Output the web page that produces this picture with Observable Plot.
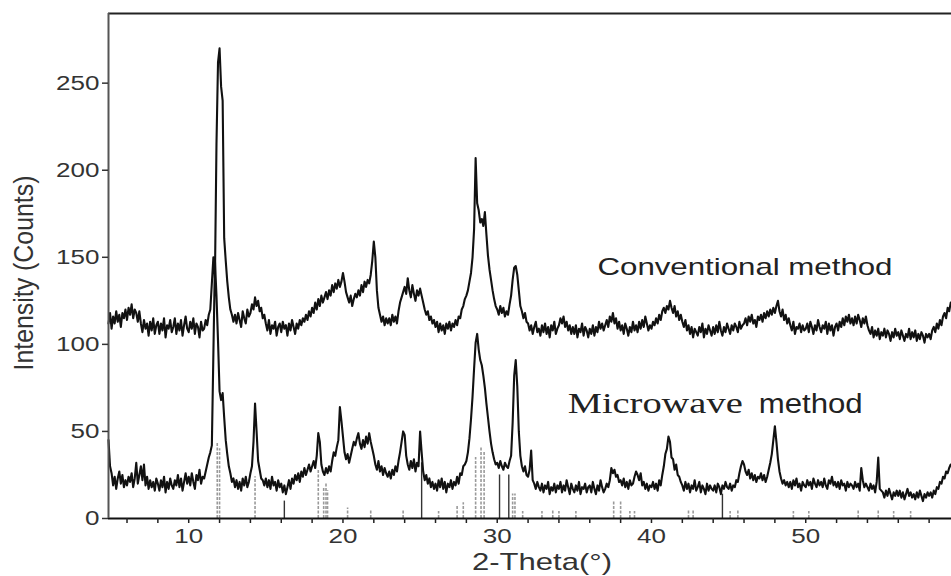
<!DOCTYPE html>
<html>
<head>
<meta charset="utf-8">
<script src="https://cdn.jsdelivr.net/npm/d3@7"></script>
<script src="https://cdn.jsdelivr.net/npm/@observablehq/plot@0.6"></script>
<style>
  html, body { margin: 0; padding: 0; background: #fff; overflow: hidden; }
  #chart svg { display: block; }
</style>
</head>
<body>
<div id="chart"></div>
<script>
// scan grid: 2-theta from 4.8 in steps of 0.1 degree
const thetaStart = 4.8, thetaStep = 0.1;

// Conventional method intensities (counts)
const conventional = [
  112,118,
  109,116,112,119,113,117,110,118,115,120, // 5
  114,121,117,123,115,120,118,113,119,112, // 6
  107,114,109,112,105,113,108,115,106,111, // 7
  113,106,112,108,115,104,111,109,114,107, // 8
  110,115,106,112,108,114,105,111,116,109, // 9
  107,113,109,115,106,112,110,104,113,108, // 10
  109,114,111,117,120,135,150,138,215,262, // 11
  270,248,240,161,148,136,127,120,117,113, // 12
  117,112,118,114,110,119,115,112,120,116, // 13
  118,123,120,127,122,125,119,121,115,117, // 14
  112,108,114,106,111,109,113,105,110,112, // 15
  107,113,109,111,105,112,108,114,110,106, // 16
  112,109,114,111,115,113,117,114,119,116, // 17
  121,118,124,120,126,122,128,124,127,130, // 18
  126,131,128,134,130,135,132,137,133,136, // 19
  141,136,130,127,124,128,122,126,129,127, // 20
  131,128,134,130,136,133,137,135,140,148, // 21
  159,150,131,121,117,113,116,111,115,112, // 22
  115,111,117,113,116,112,119,124,127,130, // 23
  133,129,138,131,127,134,129,125,131,128, // 24
  132,128,124,120,117,119,114,116,112,114, // 25
  110,113,107,112,108,111,106,112,109,113, // 26
  108,112,110,114,111,116,115,120,122,126, // 27
  128,131,136,141,150,166,207,181,177,170, // 28
  172,168,176,163,151,143,137,131,126,122, // 29
  120,117,122,118,121,116,119,117,123,128, // 30
  137,144,145,140,131,122,119,115,118,113, // 31
  112,108,111,106,110,113,107,109,105,111, // 32
  107,112,106,110,104,111,108,113,106,109, // 33
  111,115,112,116,110,113,108,111,106,110, // 34
  106,111,104,109,107,112,105,110,108,104, // 35
  109,106,111,105,110,107,113,109,112,108, // 36
  111,114,110,116,113,118,112,115,109,113, // 37
  108,111,106,112,109,105,110,107,113,108, // 38
  111,107,113,109,114,110,116,112,108,111, // 39
  109,113,111,115,112,117,114,119,121,118, // 40
  122,120,125,121,118,122,116,119,114,117, // 41
  113,110,114,108,111,106,110,104,109,107, // 42
  105,110,107,112,104,109,106,111,108,105, // 43
  110,106,111,107,113,108,105,110,107,112, // 44
  109,106,111,108,112,110,107,113,109,111, // 45
  112,115,111,116,113,117,112,114,110,116, // 46
  114,117,113,118,115,119,116,120,117,121, // 47
  118,122,125,119,116,120,114,117,112,115, // 48
  111,108,113,106,110,109,112,107,111,108, // 49
  109,112,107,113,110,106,111,108,114,110, // 50
  107,111,109,113,106,112,108,111,105,110, // 51
  112,108,113,110,115,111,116,113,117,112, // 52
  115,111,116,112,117,114,110,115,112,116, // 53
  111,108,106,110,104,108,105,109,103,107, // 54
  105,109,104,108,106,102,107,104,109,105, // 55
  107,103,108,105,102,106,104,109,103,107, // 56
  104,108,102,106,103,107,105,101,106,104, // 57
  106,103,108,110,107,112,109,114,111,116, // 58
  118,115,121,119,124                      // 59
];

// Microwave method intensities (counts)
const microwave = [
  45,30,
  26,19,24,17,23,27,20,25,18,22, // 5
  19,24,21,26,18,23,32,20,25,30, // 6
  22,31,19,24,17,22,18,21,16,23, // 7
  20,16,22,18,24,15,21,17,23,19, // 8
  17,22,19,25,18,23,16,21,26,20, // 9
  24,19,26,21,17,25,22,28,20,24, // 10
  23,27,31,35,38,42,95,148,128,102, // 11
  73,68,72,58,45,37,30,26,21,23, // 12
  18,22,17,21,16,23,19,24,18,21, // 13
  26,30,44,66,50,33,28,23,22,19, // 14
  23,18,22,17,24,19,21,16,22,18, // 15
  20,15,19,14,18,22,17,23,20,25, // 16
  22,26,21,27,24,29,25,28,31,27, // 17
  30,33,29,36,49,44,31,27,25,29, // 18
  26,30,27,33,38,36,41,45,64,56, // 19
  47,38,34,37,32,36,40,44,42,46, // 20
  49,43,40,45,41,47,43,49,44,40, // 21
  36,31,28,33,27,30,25,29,26,24, // 22
  27,23,28,25,30,27,33,38,44,50, // 23
  48,36,31,28,33,29,34,27,32,30, // 24
  50,38,27,22,25,20,23,18,21,17, // 25
  20,16,22,18,23,17,21,15,20,18, // 26
  22,17,21,19,24,20,26,25,30,31, // 27
  33,38,46,57,70,86,101,106,97,91, // 28
  88,82,75,66,58,50,43,38,34,31, // 29
  32,29,33,30,28,32,30,29,33,36, // 30
  55,82,91,76,50,36,30,27,30,25, // 31
  24,28,39,22,20,17,21,18,16,20, // 32
  15,19,17,21,14,18,16,20,15,19, // 33
  17,21,15,19,16,22,18,14,20,17, // 34
  15,19,16,21,14,18,17,20,15,18, // 35
  19,15,21,17,14,19,16,22,18,15, // 36
  17,20,18,22,29,26,28,24,25,21, // 37
  22,19,23,18,21,17,22,19,20,24, // 38
  27,25,22,26,19,21,17,20,16,19, // 39
  18,21,17,20,16,22,19,25,30,37, // 40
  40,47,44,35,34,28,31,25,24,21, // 41
  19,16,21,17,20,15,19,17,22,16, // 42
  18,21,15,19,17,14,20,16,19,17, // 43
  16,19,15,20,18,14,19,17,21,18, // 44
  17,20,16,19,18,22,21,26,30,33, // 45
  31,27,25,28,23,26,22,25,21,24, // 46
  23,26,22,25,21,24,28,32,37,45, // 47
  53,44,34,27,23,20,22,19,21,18, // 48
  21,17,22,19,23,18,20,16,21,19, // 49
  18,22,19,21,17,23,20,18,22,19, // 50
  21,18,23,19,17,22,20,24,19,21, // 51
  18,21,17,22,19,20,16,21,18,20, // 52
  19,17,21,18,20,16,29,22,18,20, // 53
  18,16,20,17,19,15,21,35,17,16, // 54
  15,12,16,13,17,14,11,15,13,16, // 55
  13,16,12,15,11,14,17,13,15,12, // 56
  14,11,15,12,16,13,10,14,12,15, // 57
  13,15,12,16,14,18,17,21,20,24, // 58
  23,27,26,29,31                  // 59
];

// reference pattern sticks (2-theta, relative height)
const refTheta  = [11.85, 12.0, 14.3, 18.4, 18.75, 18.9, 19.0, 20.3, 21.8, 23.9, 26.2, 27.4, 27.8, 28.6, 28.95, 29.15, 31.0, 31.15, 31.65, 32.9, 33.6, 34.0, 35.1, 37.55, 38.0, 38.6, 38.9, 42.4, 42.7, 45.1, 45.6, 49.2, 50.2, 53.4, 54.7, 55.7, 56.8];
const refHeight = [43,    40,   24,   28,   18,    20,   16,   6,    5,    5,    4,    7,    9,    35,   41,    38,    14,   14,    4,     4,    5,    4,    4,    10,    10,   4,    4,    5,    5,    4,    5,    4,    4,    5,    5,    4,    4];
const refDarkTheta  = [16.2, 25.1, 30.15, 30.75, 44.6];
const refDarkHeight = [10,   32,   25,    25,    14];

const xTicks = [10, 20, 30, 40, 50];
const xMinorTicks = [6, 8, 10, 12, 14, 16, 18, 20, 22, 24, 26, 28, 30, 32, 34, 36, 38, 40, 42, 44, 46, 48, 50, 52, 54, 56, 58];
const yTicks = [0, 50, 100, 150, 200, 250];

if (conventional.length !== microwave.length) {
  throw new Error("length mismatch " + conventional.length + " " + microwave.length);
}
const theta = conventional.map((_, i) => Math.round((thetaStart + thetaStep * i) * 10) / 10);
const convData = conventional.map((v, i) => ({theta: theta[i], counts: v}));
const microData = microwave.map((v, i) => ({theta: theta[i], counts: v}));
const refData = refTheta.map((t, i) => ({theta: t, h: refHeight[i]}));
const refDarkData = refDarkTheta.map((t, i) => ({theta: t, h: refDarkHeight[i]}));

const chart = Plot.plot({
  width: 951,
  height: 576,
  marginLeft: 108,
  marginRight: 0,
  marginTop: 13,
  marginBottom: 58,
  x: {domain: [4.8, 59.45], label: null},
  y: {domain: [0, 290], label: null},
  style: {fontFamily: "'Liberation Sans', Arial, sans-serif", fontSize: "20px", color: "#333", background: "#fff"},
  marks: [
    Plot.ruleX(refData, {x: "theta", y1: 0, y2: "h", stroke: "#9a9a9a", strokeWidth: 1.6, strokeDasharray: "3,1.5"}),
    Plot.ruleX(refDarkData, {x: "theta", y1: 0, y2: "h", stroke: "#333", strokeWidth: 1.4}),
    Plot.lineY(convData, {x: "theta", y: "counts", stroke: "#111", strokeWidth: 2.1}),
    Plot.lineY(microData, {x: "theta", y: "counts", stroke: "#111", strokeWidth: 2.1}),
    Plot.ruleY([0], {stroke: "#111", strokeWidth: 2}),
    Plot.ruleY([290], {stroke: "#222", strokeWidth: 2}),
    Plot.ruleX([4.8], {stroke: "#555", strokeWidth: 2}),
    Plot.axisY({ticks: yTicks, tickSize: 6, tickPadding: 3, label: null, stroke: "#333", strokeWidth: 1.5, fill: "#333"}),
    Plot.axisX({ticks: xMinorTicks, tickSize: 5, tickFormat: () => "", label: null, stroke: "#222", strokeWidth: 1.5}),
    Plot.axisX({ticks: xTicks, tickSize: 0, tickPadding: 10, label: null, fill: "#333"}),
    Plot.text(["Conventional method"], {x: 36.5, y: 144, textAnchor: "start", fontSize: 24, fill: "#222"}),
    Plot.text(["Microwave"], {x: 34.57, y: 65.9, textAnchor: "start", fontSize: 30, fontFamily: "'Liberation Serif', 'Times New Roman', serif", fill: "#222"}),
    Plot.text(["method"], {x: 46.95, y: 65.3, textAnchor: "start", fontSize: 27, fill: "#222"}),
    Plot.text(["Intensity (Counts)"], {frameAnchor: "left", dx: -84, dy: 7, rotate: -90, textAnchor: "middle", lineAnchor: "middle", fontSize: 28, fill: "#333"}),
    Plot.text(["2-Theta(°)"], {frameAnchor: "bottom", dx: 12, dy: 44, textAnchor: "middle", lineAnchor: "middle", fontSize: 24, fill: "#333"})
  ]
});

document.getElementById("chart").append(chart);

// widen the lettering the way the reference image is stretched
const fixedLengths = {
  "Conventional method": 295,
  "Microwave": 175,
  "method": 104,
  "Intensity (Counts)": 195,
  "2-Theta(°)": 140
};
const tickLabelSet = new Set([...xTicks, ...yTicks].map(String));
chart.querySelectorAll("text").forEach(t => {
  const s = t.textContent.trim();
  if (!s) return;
  let target = null;
  if (s in fixedLengths) target = fixedLengths[s];
  else if (tickLabelSet.has(s)) target = t.getComputedTextLength() * 1.3;
  if (target == null) return;
  t.setAttribute("textLength", target.toFixed(1));
  t.setAttribute("lengthAdjust", "spacingAndGlyphs");
});
</script>
</body>
</html>
